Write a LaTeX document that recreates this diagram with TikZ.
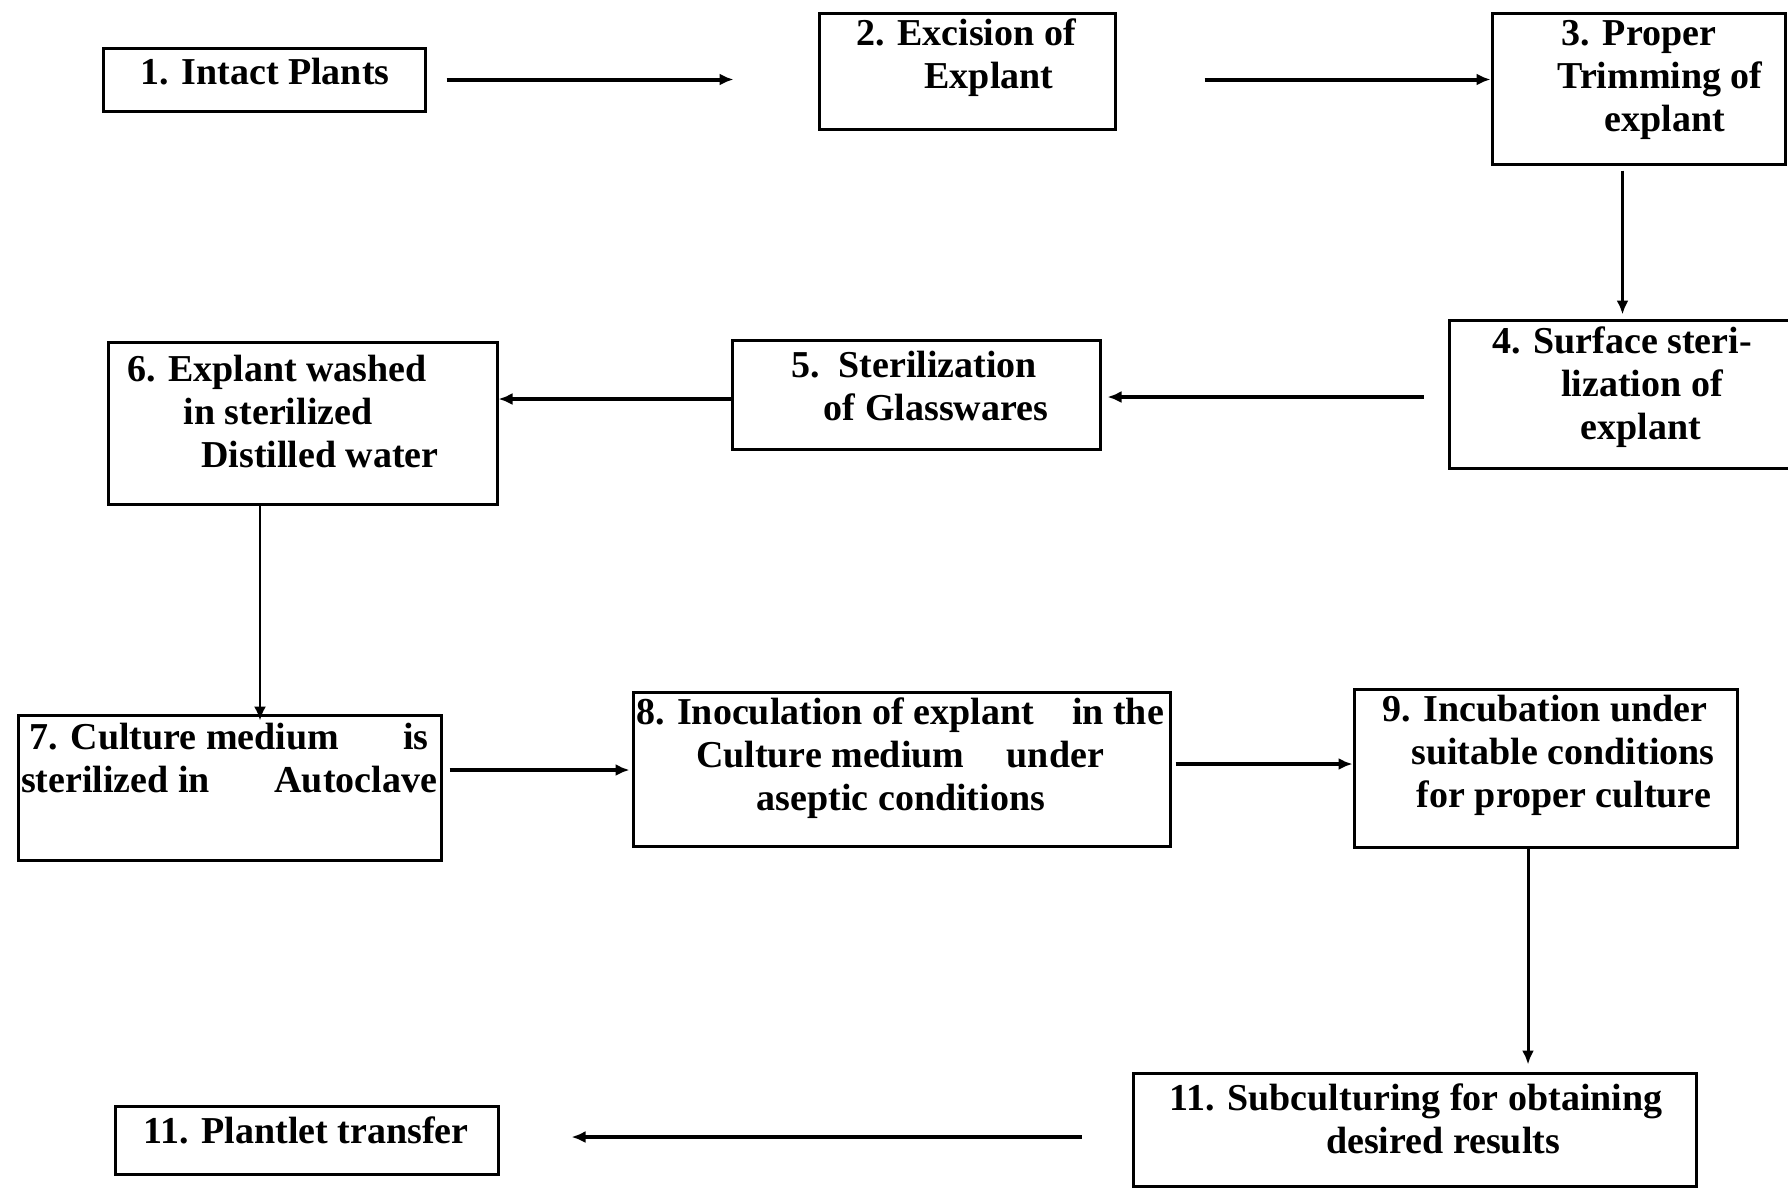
\documentclass[tikz,border=0pt]{standalone}
\usepackage{fontspec}
\setmainfont{Liberation Serif}
\usetikzlibrary{arrows.meta}
\begin{document}
\begin{tikzpicture}[x=0.5pt,y=-0.5pt,
  box/.style={draw, line width=1.5pt, inner sep=0pt, rectangle},
  txt/.style={inner sep=0pt, align=center, font=\bfseries\fontsize{19}{21.5}\selectfont},
  arr/.style={line width=2pt, -{Latex[length=7pt,width=6pt]}}]
\useasboundingbox (0,0) rectangle (1788,1189);
% boxes
\node[box, minimum width=161pt, minimum height=31.5pt] (b1) at (264,79.5) {};
\node[box, minimum width=148pt, minimum height=58pt] (b2) at (967,71) {};
\node[box, minimum width=146.5pt, minimum height=75.5pt] (b3) at (1638.5,88.5) {};
\node[box, minimum width=172pt, minimum height=74pt] (b4) at (1621,394) {};
\node[box, minimum width=184pt, minimum height=54.5pt] (b5) at (916,394.5) {};
\node[box, minimum width=194.5pt, minimum height=81pt] (b6) at (302.5,423) {};
\node[box, minimum width=211.5pt, minimum height=72.5pt] (b7) at (229.5,787.5) {};
\node[box, minimum width=268.5pt, minimum height=77pt] (b8) at (901.5,769) {};
\node[box, minimum width=191.5pt, minimum height=79pt] (b9) at (1545.5,768) {};
\node[box, minimum width=281.5pt, minimum height=56.5pt] (b10) at (1414.5,1129.5) {};
\node[box, minimum width=191.5pt, minimum height=34pt] (b11) at (306.5,1140) {};
% texts
\node[txt] (t1) at (265,72) {1. Intact Plants};
\node[txt] (t2) at (967,58) {\hspace*{-1pt}2. Excision of\\\hspace*{22pt}Explant};
\node[txt] (t3) at (1638,80) {\hspace*{1pt}3. Proper\\\hspace*{22pt}Trimming of\\\hspace*{27pt}explant};
\node[txt] (t4) at (1618,387) {\hspace*{4pt}4. Surface steri-\\\hspace*{24pt}lization of\\\hspace*{23pt}explant};
\node[txt] (t5) at (916,385.5) {\hspace*{-2pt}5.\ \ Sterilization\\\hspace*{20pt}of Glasswares};
\node[txt] (t6) at (302,411) {\hspace*{-25pt}6. Explant washed\\\hspace*{-24pt}in sterilized\\\hspace*{18pt}Distilled water};
\node[txt] (t7) at (229,758.5) {\makebox[199.5pt][l]{7. Culture medium\hfill is}\\\makebox[208pt][l]{sterilized in\hfill Autoclave}};
\node[txt] (t8) at (900,758.5) {\makebox[264pt][l]{8. Inoculation of explant\hfill in the}\\\makebox[204pt][l]{Culture medium\hfill under}\\\hspace*{1pt}aseptic conditions};
\node[txt] (t9) at (1545,755) {9. Incubation under\\\hspace*{18pt}suitable conditions\\\hspace*{19pt}for proper culture};
\node[txt] (t10) at (1414,1118.5) {\hspace*{2pt}11. Subculturing for obtaining\\\hspace*{29pt}desired results};
\node[txt] (t11) at (306,1130) {11. Plantlet transfer};
% connectors
\draw[arr, shorten <=10pt, shorten >=42pt] (b1.east) -- (b2.west |- b1.east);
\draw[arr, shorten <=44pt] (b2.east |- b1.east) -- (b3.west |- b1.east);
\draw[arr, line width=1.5pt, shorten <=2.5pt, shorten >=2pt] ([xshift=-8pt]b3.south) -- ([xshift=-8pt]b3.south |- b4.north);
\draw[arr, shorten <=12pt, shorten >=3pt] ([yshift=-1.5pt]b4.west) -- ([yshift=-1.5pt]b4.west -| b5.east);
\draw[arr] ([yshift=-2.25pt]b5.west) -- ([yshift=-2.25pt]b5.west -| b6.east);
\draw[arr, line width=1.2pt, shorten >=-3.5pt] ([xshift=-21.25pt]b6.south) -- ([xshift=-21.25pt]b6.south |- b7.north);
\draw[arr, shorten <=3.5pt, shorten >=1pt] ([yshift=8.75pt]b7.east) -- ([yshift=8.75pt]b7.east -| b8.west);
\draw[arr, shorten <=2pt] ([yshift=2.5pt]b8.east) -- ([yshift=2.5pt]b8.east -| b9.west);
\draw[arr, line width=1.5pt, shorten >=3.5pt] ([xshift=-8.75pt]b9.south) -- ([xshift=-8.75pt]b9.south |- b10.north);
\draw[arr, shorten <=25pt, shorten >=36pt] ([yshift=-3.75pt]b10.west) -- ([yshift=-3.75pt]b10.west -| b11.east);
\end{tikzpicture}
\end{document}
